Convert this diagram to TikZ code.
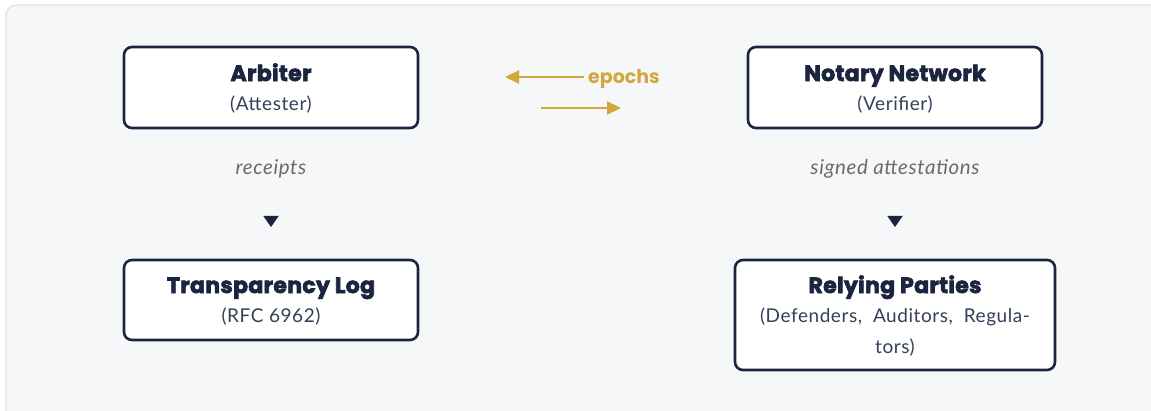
\documentclass[tikz,border=0pt]{standalone}
\usepackage{fontspec}
\setmainfont{Lato}
\newfontfamily\titlefont{Poppins}[BoldFeatures={FakeBold=3,LetterSpace=1.5}]
\newfontfamily\subfont{Lato}[LetterSpace=3]
\newfontfamily\epfont{Poppins}
\usetikzlibrary{arrows.meta,shapes.geometric}
\definecolor{bgc}{HTML}{F6F7F9}
\definecolor{bgline}{HTML}{DDE1E7}
\definecolor{navy}{HTML}{1B2540}
\definecolor{subc}{HTML}{34405A}
\definecolor{graytext}{HTML}{6B6B6B}
\definecolor{gold}{HTML}{D4A73C}
\tikzset{
  actor/.style={draw=navy, line width=2.6pt, fill=white, rounded corners=8pt},
  ttl/.style={font=\titlefont\bfseries\fontsize{22}{24}\selectfont, text=navy, anchor=base, inner sep=0pt},
  sub/.style={font=\subfont\fontsize{19}{31}\selectfont, text=subc, anchor=base, inner sep=0pt},
  flowlabel/.style={font=\subfont\itshape\fontsize{20.5}{22}\selectfont, text=graytext, anchor=base, inner sep=0pt},
  tri/.style={draw=none, fill=navy, isosceles triangle, shape border rotate=-90, isosceles triangle apex angle=70, minimum width=13pt, minimum height=11pt, inner sep=0pt},
  goldarrow/.style={draw=gold, line width=2pt, -{Triangle[length=14pt,width=13pt]}},
}
\begin{document}
\begin{tikzpicture}[x=1pt,y=-1pt]
\useasboundingbox (0,0) rectangle (1151,410);
\draw[fill=bgc, draw=bgline, line width=1.2pt, rounded corners=10pt] (6,5) rectangle (1170,430);

% boxes
\node[actor, minimum width=294pt, minimum height=81pt] (arb) at (271,87.5) {};
\node[actor, minimum width=294pt, minimum height=81pt] (not) at (895,87.5) {};
\node[actor, minimum width=294pt, minimum height=80pt] (tlog) at (271,300) {};
\node[actor, minimum width=320pt, minimum height=110pt] (rp) at (895,315) {};

\node[ttl] (arbt) at (271,81) {Arbiter};
\node[sub] (arbs) at (271,110.5) {(Attester)};
\node[ttl] (nott) at (895,81) {Notary Network};
\node[sub] (nots) at (895,110.5) {(Verifier)};
\node[ttl] (tlogt) at (271,293) {Transparency Log};
\node[sub] (tlogs) at (271,322.5) {(RFC 6962)};
\node[ttl] (rpt) at (895,293) {Relying Parties};
\node[sub] (rps1) at (895,322.5) {(Defenders,\ \ Auditors,\ \ Regula-};
\node[sub] (rps2) at (895,353.5) {tors)};

% flow labels
\node[flowlabel] (rec) at (271,174) {receipts};
\node[tri] (tri1) at (271,220) {};
\node[flowlabel] (sig) at (895,174) {signed attestations};
\node[tri] (tri2) at (895,220) {};

% epochs
\node[font=\epfont\bfseries\fontsize{19}{20}\selectfont, text=gold, anchor=base west, inner sep=0pt] (ep) at (588,83) {epochs};
\coordinate (e0) at (584,77);
\coordinate (e1) at (505,77);
\coordinate (e2s) at (541,108);
\coordinate (e2e) at (621,108);
\draw[goldarrow] (e0) -- (e1);
\draw[goldarrow] (e2s) -- (e2e);
\end{tikzpicture}
\end{document}
